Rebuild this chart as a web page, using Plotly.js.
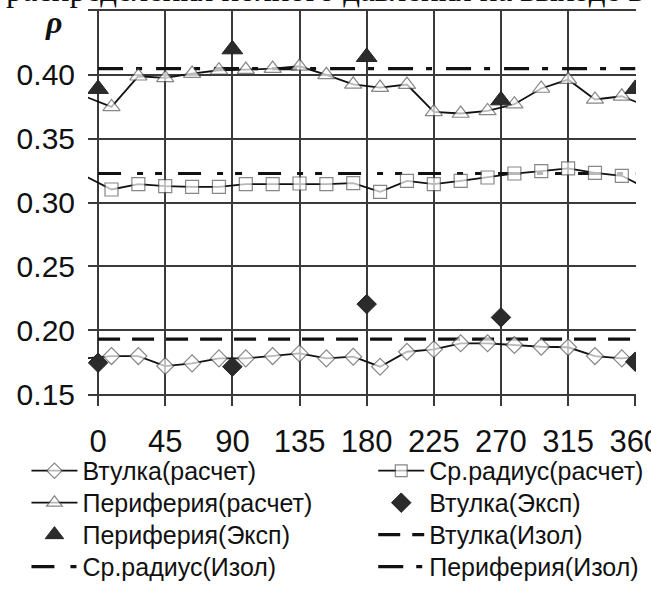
<!DOCTYPE html>
<html><head><meta charset="utf-8">
<script src="https://cdn.plot.ly/plotly-3.0.1.min.js"></script>
<style>html,body{margin:0;padding:0;background:#fff;overflow:hidden}#chart{width:651px;height:599px}</style>
</head><body><div id="chart"></div>
<script>
// Calculated series: 20 points at 9..351 deg plus the periodic wrap points drawn at the plot edges
const calcAngles = [-9, 9, 27, 45, 63, 81, 99, 117, 135, 153, 171, 189, 207, 225, 243, 261, 279, 297, 315, 333, 351, 369];
const hubCalc = [0.1779, 0.1797, 0.1797, 0.1719, 0.1740, 0.1779, 0.1779, 0.1797, 0.1818, 0.1779, 0.1792, 0.1714, 0.1831, 0.1850, 0.1897, 0.1897, 0.1884, 0.1870, 0.1866, 0.1797, 0.1779, 0.1797];
const midCalc = [0.3209, 0.3102, 0.3144, 0.3128, 0.3123, 0.3123, 0.3144, 0.3144, 0.3149, 0.3144, 0.3152, 0.3083, 0.3169, 0.3144, 0.3169, 0.3196, 0.3227, 0.3245, 0.3267, 0.3232, 0.3209, 0.3102];
const perCalc = [0.3832, 0.3749, 0.3989, 0.3976, 0.4010, 0.4036, 0.4041, 0.4049, 0.4067, 0.4000, 0.3926, 0.3900, 0.3924, 0.3710, 0.3697, 0.3717, 0.3770, 0.3893, 0.3963, 0.3807, 0.3832, 0.3749];
// Experiment
const expAngles = [0, 90, 180, 270, 360];
const hubExp = [0.1745, 0.1714, 0.2204, 0.2100, 0.1753];
const perExp = [0.389, 0.420, 0.414, 0.380, 0.389];
// Isolated (constant) levels
const isoAngles = [0, 360];
const hubIso = [0.193, 0.193];
const midIso = [0.3227, 0.3227];
const perIso = [0.4049, 0.4049];
// Axis ticks
const xTicks = [0, 45, 90, 135, 180, 225, 270, 315, 360];
const xTickText = ['0', '45', '90', '135', '180', '225', '270', '315', '360'];
const yTicks = [0.15, 0.20, 0.25, 0.30, 0.35, 0.40];
const yTickText = ['0.15', '0.20', '0.25', '0.30', '0.35', '0.40'];
const names = ['Втулка(расчет)', 'Ср.радиус(расчет)', 'Периферия(расчет)', 'Втулка(Эксп)',
               'Периферия(Эксп)', 'Втулка(Изол)', 'Ср.радиус(Изол)', 'Периферия(Изол)'];
const titleText = 'распределения полного давления на выходе в';

const edgeSizes = (s) => calcAngles.map((a, i) => (i === 0 || i === calcAngles.length - 1) ? 0 : s);

// legend slot of each entry: legend1..legend8 (2 columns x 4 rows, row-major)
const traces = [
  {x: isoAngles, y: hubIso, name: names[5], legend: 'legend6', mode: 'lines',
   line: {color: '#111', width: 3.2, dash: '22px,12px'}},
  {x: isoAngles, y: midIso, name: names[6], legend: 'legend7', mode: 'lines',
   line: {color: '#111', width: 3.2, dash: '23px,16px,6px,12px,7px,16px'}},
  {x: isoAngles, y: perIso, name: names[7], legend: 'legend8', mode: 'lines',
   line: {color: '#111', width: 3.2, dash: '25px,13px,6px,14px'}},
  {x: calcAngles, y: hubCalc, name: names[0], legend: 'legend', mode: 'lines+markers',
   line: {color: '#111', width: 1.8},
   marker: {symbol: 'diamond', size: edgeSizes(13), color: '#fff', line: {color: '#555', width: 1.2}}},
  {x: calcAngles, y: midCalc, name: names[1], legend: 'legend2', mode: 'lines+markers',
   line: {color: '#111', width: 1.8},
   marker: {symbol: 'square', size: edgeSizes(13), color: '#fff', line: {color: '#555', width: 1.2}}},
  {x: calcAngles, y: perCalc, name: names[2], legend: 'legend3', mode: 'lines+markers',
   line: {color: '#111', width: 1.8},
   marker: {symbol: 'triangle-up', size: edgeSizes(15), color: '#fff', line: {color: '#555', width: 1.2}}},
  {x: expAngles, y: hubExp, name: names[3], legend: 'legend4', mode: 'markers',
   marker: {symbol: 'diamond', size: 15, color: '#2b2b2b', line: {color: '#222', width: 1}}},
  {x: expAngles, y: perExp, name: names[4], legend: 'legend5', mode: 'markers',
   marker: {symbol: 'triangle-up', size: 18, color: '#2b2b2b', line: {color: '#222', width: 1}}}
];

const axCol = '#3a3a3a';
const plotL = 88, plotW = 561, plotB = 394, plotH = 383.3;
const colX = [25, 380];           // legend column origins, px
const rowY = [471, 503, 535, 567]; // legend row centres, px
function legendAt(col, row) {
  return {
    orientation: 'v', x: (colX[col] - plotL) / plotW, xanchor: 'left',
    y: (plotB - rowY[row]) / plotH, yanchor: 'middle',
    font: {size: 25, color: '#111'}, itemsizing: 'trace', itemwidth: 46,
    bgcolor: 'rgba(0,0,0,0)', borderwidth: 0
  };
}

const layout = {
  width: 651, height: 599,
  margin: {l: plotL, r: 2, t: 10.7, b: 205, pad: 0},
  paper_bgcolor: '#fff', plot_bgcolor: '#fff',
  font: {family: '"Liberation Sans", Arial, sans-serif', color: '#111'},
  showlegend: true,
  xaxis: {
    range: [-6.75, 360.5], tickmode: 'array', tickvals: xTicks, ticktext: xTickText,
    showgrid: true, gridcolor: axCol, gridwidth: 2, zeroline: false,
    ticks: 'outside', ticklen: 10, tickwidth: 2, tickcolor: axCol,
    showline: true, mirror: true, linecolor: axCol, linewidth: 2,
    tickfont: {size: 31, color: '#111'}, ticklabelstandoff: 9, ticklabeloverflow: 'allow'
  },
  yaxis: {
    range: [0.15, 0.45], tickmode: 'array', tickvals: yTicks, ticktext: yTickText,
    showgrid: true, gridcolor: axCol, gridwidth: 2, zeroline: false,
    ticks: '', showline: false,
    tickfont: {size: 30, color: '#111'}, ticklabelstandoff: 12
  },
  legend: legendAt(0, 0), legend2: legendAt(1, 0),
  legend3: legendAt(0, 1), legend4: legendAt(1, 1),
  legend5: legendAt(0, 2), legend6: legendAt(1, 2),
  legend7: legendAt(0, 3), legend8: legendAt(1, 3),
  annotations: [
    {text: titleText, xref: 'paper', yref: 'paper', x: -86/561, xanchor: 'left',
     y: 1, yanchor: 'bottom', yshift: 1, showarrow: false,
     font: {family: '"Liberation Serif", "Times New Roman", serif', size: 33, color: '#111'}},
    {text: '<b><i>ρ</i></b>', xref: 'paper', yref: 'paper', x: -35/561, xanchor: 'center',
     y: 0.972, yanchor: 'middle', showarrow: false,
     font: {family: '"Liberation Serif", serif', size: 32, color: '#111'}}
  ]
};

Plotly.newPlot('chart', traces, layout, {displayModeBar: false});
</script></body></html>
